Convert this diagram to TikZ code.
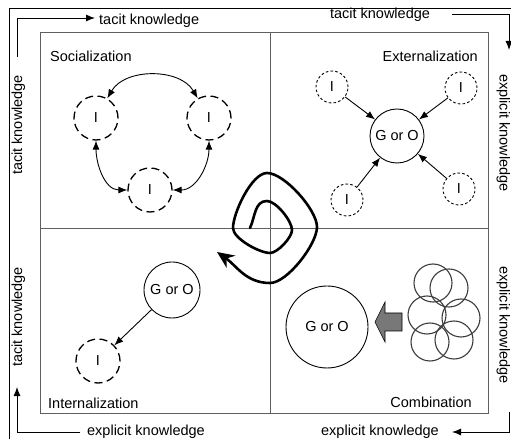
\documentclass[tikz,border=0pt]{standalone}
\usepackage{fontspec}
\setmainfont{Liberation Sans}
\usetikzlibrary{arrows.meta}
\definecolor{frame_gray}{RGB}{95, 95, 95}
\definecolor{ring_gray}{RGB}{60, 60, 60}
\definecolor{block_gray}{RGB}{120, 120, 120}
\tikzstyle{dn}=[circle,draw=black,line width=1.3pt,dash pattern=on 8pt off 4.5pt,
  inner sep=0pt,minimum size=44pt]
\tikzstyle{en}=[circle,draw=black,line width=0.9pt,dash pattern=on 2.6pt off 2.2pt,
  inner sep=0pt,minimum size=32pt]
\tikzstyle{gn}=[circle,draw=black,line width=0.9pt,inner sep=0pt]
\tikzstyle{rn}=[circle,draw=ring_gray,line width=1.1pt,inner sep=0pt,minimum size=38pt]
\tikzstyle{lab}=[inner sep=0pt]
\tikzstyle{arr}=[-{Latex[length=9pt,width=7pt]},line width=0.9pt]
\tikzstyle{darr}=[{Latex[length=9pt,width=7pt]}-{Latex[length=9pt,width=7pt]},line width=0.9pt]

\begin{document}
\begin{tikzpicture}[x=1pt,y=1pt,font=\fontsize{14.5}{17}\selectfont]
    \useasboundingbox (0,0) rectangle (511,439);
    \draw [line width=1pt] (9,0) -- (9,430) -- (511,430);
    % quadrants
    \draw [frame_gray,line width=1pt] (40,26) rectangle (488,406);
    \draw [frame_gray,line width=0.8pt] (270,26) -- (270,406);
    \draw [frame_gray,line width=0.8pt] (40,211) -- (488,211);
    \node [lab,anchor=base west] (soc) at (50,377) {Socialization};
    \node [lab,anchor=base east] (ext) at (478,377) {Externalization};
    \node [lab,anchor=base west] (int) at (48,31) {Internalization};
    \node [lab,anchor=base east] (com) at (472,32) {Combination};
    % knowledge axes
    \node [lab,anchor=base west] (tk1) at (99,414) {tacit knowledge};
    \node [lab,anchor=base] (tk2) at (380,420) {tacit knowledge};
    \node [lab,anchor=base,rotate=-90] (ek1) at (499.5,306) {explicit knowledge};
    \node [lab,anchor=base,rotate=-90] (ek2) at (499.5,114) {explicit knowledge};
    \node [lab,anchor=base] (ek3) at (380,4) {explicit knowledge};
    \node [lab,anchor=base] (ek4) at (146,4) {explicit knowledge};
    \node [lab,anchor=base,rotate=90] (tk3) at (22,122) {tacit knowledge};
    \node [lab,anchor=base,rotate=90] (tk4) at (22,314) {tacit knowledge};
    \coordinate (a1) at (17,382);
    \coordinate (a2) at (95,421);
    \coordinate (b1) at (452,425);
    \coordinate (b2) at (509,389);
    \coordinate (c1) at (509,27);
    \coordinate (c2) at (452,7);
    \coordinate (d1) at (80,7);
    \coordinate (d2) at (17,52);
    \draw [arr] (a1) |- (a2);
    \draw [arr] (b1) -| (b2);
    \draw [arr] (c1) |- (c2);
    \draw [arr] (d1) -| (d2);
    % socialization
    \node [style=dn] (left) at (96,321) {I};
    \node [style=dn] (right) at (209,321) {I};
    \node [style=dn] (bottom) at (150,249) {I};
    \draw [darr] (left) to [out=60, in=120] (right);
    \draw [darr] (left) to [out=-90, in=180] (bottom);
    \draw [darr] (right) to [out=-90, in=0] (bottom);
    % externalization
    \node [style=gn,minimum size=54pt] (ego) at (397,303) {G or O};
    \node [style=en] (e1) at (332,352) {I};
    \node [style=en] (e2) at (461,351) {I};
    \node [style=en] (e3) at (347,239) {I};
    \node [style=en] (e4) at (459,250) {I};
    \draw [arr] (e1) to (ego);
    \draw [arr] (e2) to (ego);
    \draw [arr] (e3) to (ego);
    \draw [arr] (e4) to (ego);
    % internalization
    \node [style=gn,minimum size=56pt] (igo) at (172,149) {G or O};
    \node [style=dn] (inI) at (98,78) {I};
    \draw [arr] (igo) to (inI);
    % combination
    \node [style=gn,minimum size=82pt] (cgo) at (327,112) {G or O};
    \foreach \x/\y [count=\i] in {433/156,449/151,427/124,461/121,430/97,454/99}
      \node [style=rn] (ring\i) at (\x,\y) {};
    \draw [fill=block_gray,line width=0.6pt] (402,126) -- (385,126) -- (385,137)
      -- (375,117) -- (385,97) -- (385,108) -- (402,108) -- cycle;
    % spiral
    \coordinate (s0) at (250,211);
    \coordinate (s1) at (267,238);
    \coordinate (s2) at (292,209);
    \coordinate (s3) at (270,186);
    \coordinate (s4) at (233,211);
    \coordinate (s5) at (267,266);
    \coordinate (s6) at (317,212);
    \coordinate (s7) at (270,156);
    \coordinate (s8) at (217,187);
    \draw [line width=2.6pt,line cap=round,-{Stealth[length=17pt,width=15pt]}]
      (s0) to [out=65, in=180] (s1)
      to [out=0, in=90, looseness=0.6] (s2)
      to [out=-90, in=0, looseness=0.6] (s3)
      to [out=180, in=-90, looseness=0.6] (s4)
      to [out=90, in=180, looseness=0.6] (s5)
      to [out=0, in=90, looseness=0.6] (s6)
      to [out=-90, in=0, looseness=0.6] (s7)
      to [out=180, in=-35] (s8);
  \end{tikzpicture}
\end{document}
